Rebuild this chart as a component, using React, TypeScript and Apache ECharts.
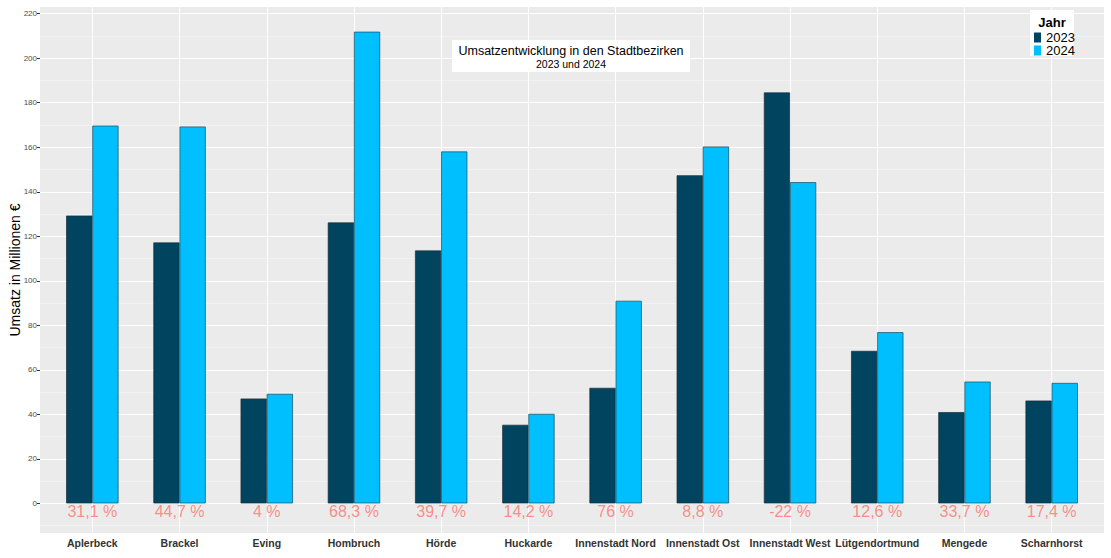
import React, { useEffect, useRef } from "react";
import * as echarts from "echarts";

const categories = [
  "Aplerbeck",
  "Brackel",
  "Eving",
  "Hombruch",
  "Hörde",
  "Huckarde",
  "Innenstadt Nord",
  "Innenstadt Ost",
  "Innenstadt West",
  "Lütgendortmund",
  "Mengede",
  "Scharnhorst",
];
const values2023 = [129.3, 117.2, 47.1, 126.2, 113.6, 35.3, 51.9, 147.4, 184.6, 68.5, 41.0, 46.2];
const values2024 = [169.7, 169.3, 49.2, 211.9, 158.1, 40.2, 91.0, 160.3, 144.3, 76.9, 54.7, 54.1];
const changeLabels = ["31,1 %", "44,7 %", "4 %", "68,3 %", "39,7 %", "14,2 %", "76 %", "8,8 %", "-22 %", "12,6 %", "33,7 %", "17,4 %"];
const yTicks = [0, 20, 40, 60, 80, 100, 120, 140, 160, 180, 200, 220];
const yMinorTicks = [-10, 10, 30, 50, 70, 90, 110, 130, 150, 170, 190, 210];
const labelValueY = -3.5;
const yMin = -13.3;
const yMax = 223;
const xMin = 0.4;
const xMax = 12.6;

const FONT = "'Liberation Sans', Arial, sans-serif";

export default function App() {
  const ref = useRef<HTMLDivElement>(null);

  useEffect(() => {
    document.body.style.margin = "0";
    const chart = echarts.init(ref.current!, null, { renderer: "svg" });
    const xs = categories.map((_, i) => i + 1);

    const option: any = {
      animation: false,
      backgroundColor: "#ffffff",
      textStyle: { fontFamily: FONT },
      grid: {
        left: 40,
        right: 7,
        top: 7,
        bottom: 25,
        containLabel: false,
        outerBoundsMode: "none",
        show: true,
        backgroundColor: "#EBEBEB",
        borderWidth: 0,
      },
      xAxis: {
        type: "value",
        min: xMin,
        max: xMax,
        scale: true,
        axisLine: { show: false },
        splitLine: { show: false },
        axisTick: {
          show: true,
          length: 3,
          lineStyle: { color: "#333333", width: 1 },
          customValues: xs,
        },
        axisLabel: {
          customValues: xs,
          margin: 4,
          fontSize: 10.5,
          fontWeight: "bold",
          color: "#333333",
          fontFamily: FONT,
          formatter: (v: number) => categories[Math.round(v) - 1] ?? "",
        },
      },
      yAxis: {
        type: "value",
        min: yMin,
        max: yMax,
        name: "Umsatz in Millionen €",
        nameLocation: "middle",
        nameGap: 18.5,
        nameMoveOverlap: false,
        nameTextStyle: { fontSize: 14, color: "#000000", fontFamily: FONT },
        axisLine: { show: false },
        splitLine: { show: false },
        axisTick: {
          show: true,
          length: 3,
          lineStyle: { color: "#333333", width: 1 },
          customValues: yTicks,
        },
        axisLabel: {
          customValues: yTicks,
          margin: 3,
          fontSize: 8,
          color: "#4D4D4D",
          fontFamily: FONT,
        },
      },
      legend: {
        data: ["2023", "2024"],
        orient: "vertical",
        left: 1034,
        top: 31,
        padding: 0,
        itemWidth: 7,
        itemHeight: 10,
        itemGap: 0,
        itemTextGap: 2,
        icon: "rect",
        itemStyle: { borderWidth: 0 },
        textStyle: { fontSize: 13, color: "#000000", lineHeight: 10, fontFamily: FONT },
        selectedMode: false,
        z: 20,
      },
      graphic: [
        {
          type: "rect",
          shape: { x: 452, y: 40, width: 238, height: 32 },
          style: { fill: "#ffffff" },
          z: 10,
        },
        {
          type: "text",
          x: 571,
          y: 51,
          style: {
            text: "Umsatzentwicklung in den Stadtbezirken",
            fontSize: 12.5,
            fontFamily: FONT,
            fill: "#000000",
            align: "center",
            verticalAlign: "middle",
          },
          z: 11,
        },
        {
          type: "text",
          x: 571,
          y: 64,
          style: {
            text: "2023 und 2024",
            fontSize: 10.5,
            fontFamily: FONT,
            fill: "#000000",
            align: "center",
            verticalAlign: "middle",
          },
          z: 11,
        },
        {
          type: "rect",
          shape: { x: 1030, y: 10, width: 44, height: 46 },
          style: { fill: "#ffffff" },
          z: 10,
        },
        {
          type: "text",
          x: 1052,
          y: 22,
          style: {
            text: "Jahr",
            fontSize: 13,
            fontWeight: "bold",
            fontFamily: FONT,
            fill: "#000000",
            align: "center",
            verticalAlign: "middle",
          },
          z: 11,
        },
      ],
      series: [
        {
          name: "grid",
          type: "line",
          data: [],
          silent: true,
          z: 1,
          markLine: {
            silent: true,
            symbol: "none",
            z: 1,
            label: { show: false },
            animation: false,
            data: [
              ...yMinorTicks.map((v) => ({ yAxis: v, lineStyle: { color: "#F7F7F7", width: 0.6, type: "solid" } })),
              ...yTicks.map((v) => ({ yAxis: v, lineStyle: { color: "#ffffff", width: 1, type: "solid" } })),
              ...xs.map((v) => ({ xAxis: v, lineStyle: { color: "#ffffff", width: 1, type: "solid" } })),
            ],
          },
        },
        {
          name: "2023",
          type: "bar",
          z: 3,
          barWidth: "30%",
          barGap: "0%",
          data: values2023.map((v, i) => [xs[i], v]),
          itemStyle: { color: "#01445F", borderColor: "#1A2F3A", borderWidth: 0.7 },
          silent: true,
        },
        {
          name: "2024",
          type: "bar",
          z: 3,
          barWidth: "30%",
          barGap: "0%",
          data: values2024.map((v, i) => [xs[i], v]),
          itemStyle: { color: "#00BFFF", borderColor: "#1A4A5E", borderWidth: 0.7 },
          silent: true,
        },
        {
          name: "labels",
          type: "scatter",
          z: 5,
          silent: true,
          symbolSize: 1,
          itemStyle: { color: "rgba(0,0,0,0)" },
          data: changeLabels.map((_, i) => [xs[i], labelValueY]),
          label: {
            show: true,
            position: "inside",
            formatter: (p: any) => changeLabels[p.dataIndex],
            fontSize: 16,
            color: "#F8766D",
            fontFamily: FONT,
          },
        },
      ],
    };

    chart.setOption(option);
    return () => chart.dispose();
  }, []);

  return (
    <div
      ref={ref}
      style={{ position: "absolute", left: 0, top: 0, width: 1111, height: 558 }}
    />
  );
}
